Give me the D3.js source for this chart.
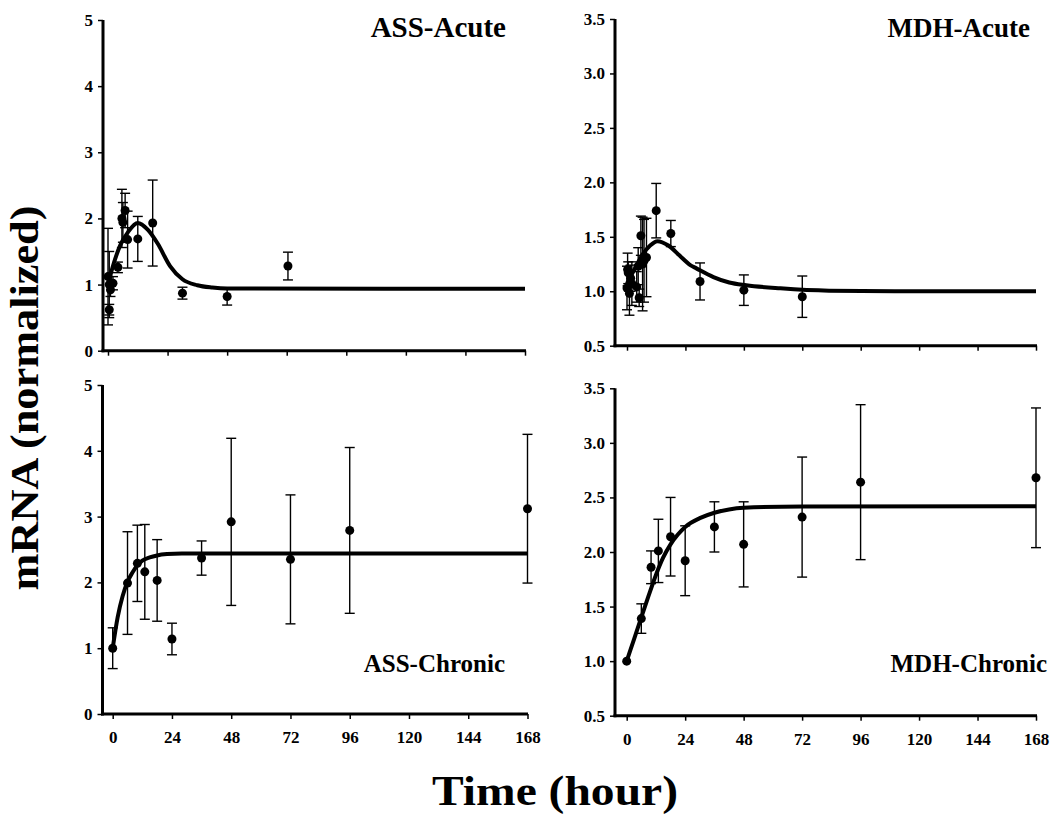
<!DOCTYPE html>
<html><head><meta charset="utf-8">
<script src="https://cdn.jsdelivr.net/npm/d3@7/dist/d3.min.js"></script>
<style>
body{margin:0;background:#fff}
text{font-family:"Liberation Serif","Times New Roman",serif;font-weight:bold;fill:#000}
</style>
</head><body>
<svg id="chart" width="1052" height="816"></svg>
<script>
// ---------- data ----------
const xTickValues = [0, 24, 48, 72, 96, 120, 144, 168];
const yTicksASS = [0, 1, 2, 3, 4, 5];
const yTicksMDH = [0.5, 1.0, 1.5, 2.0, 2.5, 3.0, 3.5];

// ASS-Acute
const assAcuteTime = [0, 0.5, 0.5, 1, 2, 4, 5.6, 6, 6.9, 7.9, 12, 18, 30, 48, 72.5];
const assAcuteMean = [1.12, 1.0, 0.62, 0.92, 1.02, 1.26, 2.0, 1.94, 2.12, 1.68, 1.69, 1.93, 0.87, 0.82, 1.28];
const assAcuteErr  = [0.73, 0.5, 0.08, 0.1, 0.1, 0.08, 0.44, 0.3, 0.26, 0.43, 0.34, 0.65, 0.09, 0.13, 0.21];
const assAcuteFitTime  = [0, 2, 5, 8, 12, 16, 20, 25, 30, 36, 42, 48, 168];
const assAcuteFitValue = [1.0, 1.28, 1.6, 1.79, 1.93, 1.83, 1.62, 1.28, 1.08, 0.99, 0.955, 0.94, 0.935];

// MDH-Acute
const mdhAcuteTime = [0, 0.25, 0.5, 1, 1.5, 2, 4, 4.6, 5, 5.7, 6.4, 7, 8, 12, 18, 30, 48, 72];
const mdhAcuteMean = [1.03, 1.2, 1.17, 0.98, 1.12, 1.07, 1.04, 1.23, 0.94, 1.51, 1.25, 1.28, 1.31, 1.74, 1.53, 1.09, 1.01, 0.95];
const mdhAcuteErr  = [0.2, 0.15, 0.1, 0.2, 0.12, 0.2, 0.14, 0.17, 0.08, 0.18, 0.43, 0.38, 0.36, 0.25, 0.12, 0.17, 0.14, 0.19];
const mdhAcuteFitTime  = [0, 3, 6.5, 9.5, 12.5, 17, 21.5, 26, 28.5, 35.5, 42, 49, 63, 83, 110, 168];
const mdhAcuteFitValue = [1.07, 1.2, 1.34, 1.42, 1.46, 1.42, 1.33, 1.24, 1.21, 1.13, 1.08, 1.055, 1.027, 1.005, 1.0, 1.0];

// ASS-Chronic
const assChronicTime = [0, 6, 10, 13, 18, 24, 36, 48, 72, 96, 168];
const assChronicMean = [1.0, 1.99, 2.29, 2.16, 2.03, 1.14, 2.37, 2.92, 2.35, 2.79, 3.12];
const assChronicErr  = [0.31, 0.78, 0.58, 0.72, 0.62, 0.24, 0.26, 1.27, 0.98, 1.26, 1.13];
const assChronicFitTime  = [0, 2, 4, 6, 8, 10, 12, 15, 18, 22, 28, 168];
const assChronicFitValue = [1.0, 1.47, 1.79, 2.01, 2.15, 2.26, 2.33, 2.38, 2.41, 2.43, 2.44, 2.44];

// MDH-Chronic
const mdhChronicTime = [0, 6, 10, 13, 18, 24, 36, 48, 72, 96, 168];
const mdhChronicMean = [1.0, 1.39, 1.86, 2.01, 2.14, 1.92, 2.23, 2.07, 2.32, 2.64, 2.68];
const mdhChronicErr  = [0.0, 0.135, 0.15, 0.29, 0.36, 0.32, 0.23, 0.39, 0.55, 0.71, 0.64];
const mdhChronicFitTime  = [0, 3, 6, 9, 12, 15, 18, 21, 24, 30, 36, 42, 48, 72, 168];
const mdhChronicFitValue = [1.0, 1.2, 1.4, 1.6, 1.79, 1.95, 2.07, 2.16, 2.23, 2.31, 2.36, 2.39, 2.405, 2.418, 2.42];

// ---------- layout ----------
const svg = d3.select("#chart");

const panels = [
  {title: "ASS-Acute", t: assAcuteTime, m: assAcuteMean, e: assAcuteErr, ft: assAcuteFitTime, fv: assAcuteFitValue,
   yDomain: [0, 5], yTicks: yTicksASS, fmt: d3.format("d"),
   axisX: 103, xRange: [108, 525], yRange: [350.7, 20], xEnd: 526, labels: false,
   titleX: 506, titleY: 37, titleSize: 29},
  {title: "MDH-Acute", t: mdhAcuteTime, m: mdhAcuteMean, e: mdhAcuteErr, ft: mdhAcuteFitTime, fv: mdhAcuteFitValue,
   yDomain: [0.5, 3.5], yTicks: yTicksMDH, fmt: d3.format(".1f"),
   axisX: 615, xRange: [627, 1036], yRange: [345.7, 19], xEnd: 1037, labels: false,
   titleX: 1030, titleY: 37, titleSize: 27},
  {title: "ASS-Chronic", t: assChronicTime, m: assChronicMean, e: assChronicErr, ft: assChronicFitTime, fv: assChronicFitValue,
   yDomain: [0, 5], yTicks: yTicksASS, fmt: d3.format("d"),
   axisX: 102.5, xRange: [112.7, 527.5], yRange: [714, 385], xEnd: 528, labels: true,
   titleX: 505, titleY: 672, titleSize: 25},
  {title: "MDH-Chronic", t: mdhChronicTime, m: mdhChronicMean, e: mdhChronicErr, ft: mdhChronicFitTime, fv: mdhChronicFitValue,
   yDomain: [0.5, 3.5], yTicks: yTicksMDH, fmt: d3.format(".1f"),
   axisX: 615, xRange: [626.7, 1036], yRange: [715.7, 388.3], xEnd: 1037, labels: true,
   titleX: 1047, titleY: 672, titleSize: 25}
];

panels.forEach(p => {
  const x = d3.scaleLinear().domain([0, 168]).range(p.xRange);
  const y = d3.scaleLinear().domain(p.yDomain).range(p.yRange);
  const g = svg.append("g");

  // y axis
  const yAxis = d3.axisLeft(y).tickValues(p.yTicks).tickFormat(p.fmt).tickSize(5).tickPadding(5);
  const ya = g.append("g").attr("transform", `translate(${p.axisX},0)`).call(yAxis);
  ya.select(".domain").remove();
  ya.selectAll(".tick line").attr("stroke", "#000").attr("stroke-width", 1.5);
  ya.selectAll(".tick text").style("font-size", "17px").attr("font-family", null);

  // x axis
  const xAxis = d3.axisBottom(x).tickValues(xTickValues).tickSize(5).tickPadding(12);
  if (!p.labels) xAxis.tickFormat("");
  const xa = g.append("g").attr("transform", `translate(0,${p.yRange[0]})`).call(xAxis);
  xa.select(".domain").remove();
  xa.selectAll(".tick line").attr("stroke", "#000").attr("stroke-width", 1.5);
  xa.selectAll(".tick text").style("font-size", "17px").attr("font-family", null);

  // axis lines
  g.append("line").attr("x1", p.axisX).attr("x2", p.axisX)
    .attr("y1", p.yRange[0] + 1.5).attr("y2", p.yRange[1])
    .attr("stroke", "#000").attr("stroke-width", 3);
  g.append("line").attr("x1", p.axisX - 1.5).attr("x2", p.xEnd)
    .attr("y1", p.yRange[0]).attr("y2", p.yRange[0])
    .attr("stroke", "#000").attr("stroke-width", 3);

  // fitted curve
  const fit = p.ft.map((t, i) => [t, p.fv[i]]);
  g.append("path").datum(fit)
    .attr("d", d3.line().x(d => x(d[0])).y(d => y(d[1])).curve(d3.curveMonotoneX))
    .attr("fill", "none").attr("stroke", "#000").attr("stroke-width", 4);

  // error bars
  const pts = p.t.map((t, i) => ({t, m: p.m[i], e: p.e[i]}));
  const eb = g.append("g").attr("stroke", "#000").attr("stroke-width", 1.4);
  pts.filter(d => d.e > 0).forEach(d => {
    eb.append("line").attr("x1", x(d.t)).attr("x2", x(d.t)).attr("y1", y(d.m - d.e)).attr("y2", y(d.m + d.e));
    eb.append("line").attr("x1", x(d.t) - 5).attr("x2", x(d.t) + 5).attr("y1", y(d.m + d.e)).attr("y2", y(d.m + d.e));
    eb.append("line").attr("x1", x(d.t) - 5).attr("x2", x(d.t) + 5).attr("y1", y(d.m - d.e)).attr("y2", y(d.m - d.e));
  });

  // points
  g.selectAll("circle.pt").data(pts).enter().append("circle")
    .attr("cx", d => x(d.t)).attr("cy", d => y(d.m)).attr("r", 4.5).attr("fill", "#000");

  // title
  g.append("text").attr("x", p.titleX).attr("y", p.titleY).attr("text-anchor", "end")
    .style("font-size", p.titleSize + "px").text(p.title);
});

// axis titles
svg.append("text").attr("transform", "translate(38,398) rotate(-90)").attr("text-anchor", "middle")
  .attr("textLength", 385).attr("lengthAdjust", "spacingAndGlyphs")
  .style("font-size", "40px").text("mRNA (normalized)");
svg.append("text").attr("x", 555).attr("y", 805).attr("text-anchor", "middle")
  .attr("textLength", 246).attr("lengthAdjust", "spacingAndGlyphs")
  .style("font-size", "42px").text("Time (hour)");
</script>
</body></html>
